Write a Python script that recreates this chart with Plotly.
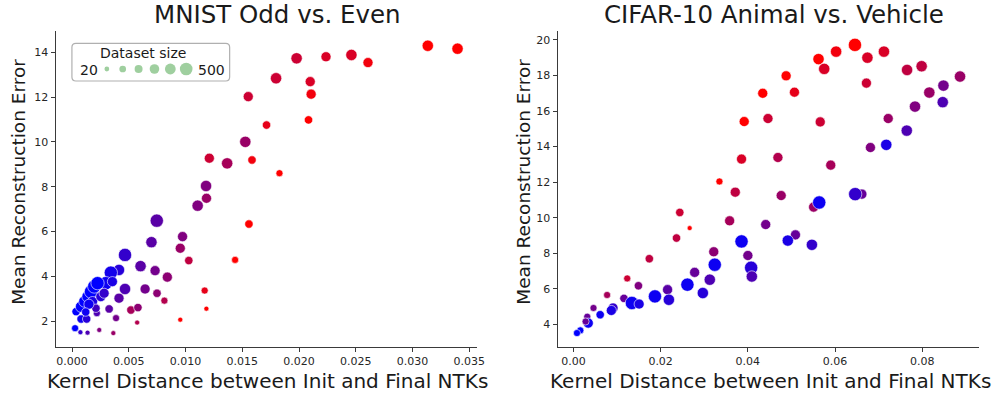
import numpy as np
import plotly.graph_objects as go

W, H = 1003, 397

# ---------------- data ----------------
# MNIST Odd vs. Even
mnist_kernel_dist = [0.01978, 0.01797, 0.01552, 0.01713, 0.01526, 0.01209, 0.01366, 0.01585, 0.01827, 0.0118,
                     0.01184, 0.01106, 0.02237, 0.02461, 0.02607, 0.02098, 0.02106, 0.02083, 0.03134, 0.03396,
                     0.01558, 0.00746, 0.00973, 0.00699, 0.00953, 0.01028, 0.01436, 0.00466, 0.00603, 0.00731,
                     0.00839, 0.00413, 0.00341, 0.00297, 0.00466, 0.00643, 0.00748, 0.00813, 0.01168, 0.01183,
                     0.00953, 0.00413, 0.00326, 0.00518, 0.0058, 0.00573, 0.00387, 0.00218, 0.00239, 0.00363,
                     0.00136, 0.00073, 0.00026, 0.00079, 0.00128, 0.00035, 0.00079, 0.00108, 0.00136, 0.00166,
                     0.00195, 0.00224, 0.0018, 0.0021, 0.00253, 0.00282, 0.00355, 0.00148, 0.0012]
mnist_recon_err = [13.73, 12.84, 12.02, 10.75, 10.0, 9.27, 9.04, 9.19, 8.6, 8.03,
                   7.48, 7.15, 13.8, 13.88, 13.54, 12.69, 12.13, 10.98, 14.29, 14.16,
                   6.33, 6.48, 5.77, 5.52, 5.25, 4.70, 4.73, 4.95, 4.45, 4.25,
                   3.96, 4.28, 4.16, 3.69, 3.43, 3.43, 3.24, 2.91, 3.36, 2.55,
                   2.06, 3.02, 2.54, 2.49, 2.60, 1.93, 2.13, 2.35, 1.60, 1.46,
                   1.48, 1.50, 1.68, 2.09, 2.09, 2.42, 2.64, 2.87, 3.09, 3.31,
                   3.54, 3.69, 2.87, 2.57, 3.09, 3.24, 3.76, 2.75, 2.40]
mnist_dataset_size = [300, 300, 200, 100, 300, 200, 300, 100, 50, 300,
                      200, 300, 200, 300, 200, 200, 200, 100, 300, 300,
                      100, 500, 200, 300, 200, 100, 50, 500, 300, 200,
                      200, 300, 500, 500, 300, 200, 100, 50, 50, 20,
                      20, 200, 100, 100, 100, 20, 50, 50, 20, 20,
                      20, 20, 50, 100, 100, 100, 300, 300, 300, 500,
                      500, 500, 200, 100, 200, 200, 200, 200, 100]
mnist_hue = [0.8, 0.8, 0.8, 0.9, 0.6, 0.8, 0.65, 0.95, 1.0, 0.5,
             0.6, 0.5, 0.85, 0.85, 0.95, 0.85, 0.95, 1.0, 1.0, 1.0,
             1.0, 0.35, 0.5, 0.35, 0.6, 0.75, 1.0, 0.2, 0.35, 0.45,
             0.55, 0.15, 0.08, 0.05, 0.3, 0.45, 0.55, 0.7, 0.9, 1.0,
             1.0, 0.35, 0.35, 0.65, 0.55, 0.7, 0.45, 0.3, 0.5, 0.6,
             0.3, 0.2, 0.0, 0.05, 0.15, 0.0, 0.0, 0.0, 0.0, 0.0,
             0.0, 0.0, 0.1, 0.25, 0.15, 0.2, 0.1, 0.05, 0.05]

# CIFAR-10 Animal vs. Vehicle
cifar_kernel_dist = [0.03348, 0.03711, 0.03855, 0.03916, 0.04341, 0.04877, 0.05068, 0.0562, 0.0575, 0.06023,
                     0.06455, 0.06741, 0.0712, 0.06718, 0.0765, 0.07984, 0.08864, 0.08484, 0.0816, 0.07832,
                     0.08468, 0.07643, 0.07218, 0.07173, 0.0681, 0.05659, 0.04689, 0.04461, 0.059, 0.04764,
                     0.05507, 0.05636, 0.06614, 0.06461, 0.04409, 0.05091, 0.04916, 0.05468, 0.02439, 0.02666,
                     0.02364, 0.03582, 0.03855, 0.04, 0.04075, 0.04091, 0.01741, 0.01234, 0.01491, 0.00773,
                     0.01159, 0.00461, 0.00318, 0.00909, 0.0087, 0.00614, 0.00341, 0.0028, 0.00159, 0.00082,
                     0.01341, 0.01507, 0.0187, 0.02159, 0.02189, 0.02614, 0.0278, 0.02968, 0.03127, 0.03241,
                     0.03218]
cifar_recon_err = [12.04, 11.44, 13.30, 15.41, 17.0, 17.98, 17.06, 18.92, 18.37, 19.34,
                   19.72, 19.0, 19.34, 17.57, 18.31, 18.52, 17.94, 17.43, 17.04, 16.25,
                   16.50, 14.90, 15.58, 14.10, 13.95, 15.39, 13.39, 15.58, 12.96, 11.25,
                   10.6, 10.86, 11.33, 11.33, 9.62, 9.04, 8.72, 8.48, 10.30, 9.42,
                   8.86, 9.83, 8.67, 7.88, 7.19, 6.70, 7.70, 6.59, 6.18, 5.66,
                   5.47, 4.93, 4.44, 4.93, 4.79, 4.55, 4.08, 4.17, 3.67, 3.52,
                   5.21, 5.15, 5.58, 5.96, 5.39, 6.24, 6.93, 5.77, 6.52, 7.36,
                   8.09]
cifar_dataset_size = [50, 200, 200, 200, 200, 200, 200, 300, 300, 300,
                      500, 300, 300, 200, 300, 300, 300, 300, 300, 300,
                      300, 300, 200, 300, 200, 200, 200, 200, 200, 200,
                      200, 500, 200, 500, 200, 200, 300, 300, 100, 20,
                      100, 200, 500, 200, 500, 300, 100, 50, 100, 50,
                      100, 50, 50, 200, 200, 100, 200, 50, 50, 50,
                      500, 200, 500, 200, 300, 500, 200, 300, 300, 500,
                      200]
cifar_hue = [1.0, 0.75, 0.85, 1.0, 1.0, 1.0, 0.9, 1.0, 0.85, 0.95,
             1.0, 0.85, 0.85, 0.8, 0.75, 0.75, 0.6, 0.45, 0.6, 0.5,
             0.3, 0.3, 0.6, 0.1, 0.5, 0.8, 0.7, 0.8, 0.65, 0.6,
             0.6, 0.05, 0.4, 0.2, 0.45, 0.4, 0.1, 0.2, 0.8, 1.0,
             0.75, 0.65, 0.05, 0.45, 0.15, 0.3, 0.75, 0.8, 0.5, 0.65,
             0.4, 0.45, 0.4, 0.2, 0.1, 0.05, 0.05, 0.4, 0.0, 0.0,
             0.05, 0.1, 0.05, 0.35, 0.15, 0.05, 0.4, 0.15, 0.3, 0.05,
             0.55]

legend_sizes = [20, 50, 100, 200, 300, 500]

titles = ["MNIST Odd vs. Even", "CIFAR-10 Animal vs. Vehicle"]
x_label = "Kernel Distance between Init and Final NTKs"
y_label = "Mean Reconstruction Error"

FONT = "DejaVu Sans"
BLUE_RED = [[0, "rgb(0,0,255)"], [1, "rgb(255,0,0)"]]


def diam(n):
    n = np.asarray(n, dtype=float)
    return 5 + 8.3 * np.sqrt((n - 20) / 480)


def fx(p):
    return p / W


def fy(p):
    return 1 - p / H


# ---------------- layout geometry (pixels) ----------------
L1, R1 = 56, 481
L2, R2 = 562, 987
TOP, BOT = 31, 347

fig = go.Figure()


def add_scatter(x, y, n, hue, xa, ya):
    fig.add_trace(go.Scatter(
        x=x, y=y, mode="markers", xaxis=xa, yaxis=ya, showlegend=False,
        marker=dict(size=diam(n), color=hue, colorscale=BLUE_RED, cmin=0, cmax=1,
                    opacity=1, line=dict(color="white", width=0.6)),
        hoverinfo="x+y"))


add_scatter(mnist_kernel_dist, mnist_recon_err, mnist_dataset_size, mnist_hue, "x", "y")
add_scatter(cifar_kernel_dist, cifar_recon_err, cifar_dataset_size, cifar_hue, "x2", "y2")

# legend dots on a hidden helper axis
fig.add_trace(go.Scatter(
    x=list(range(len(legend_sizes))), y=[0] * len(legend_sizes), mode="markers",
    xaxis="x3", yaxis="y3", showlegend=False, hoverinfo="skip", cliponaxis=False,
    marker=dict(size=diam(legend_sizes) * 0.95, color="rgb(118,186,118)", line=dict(width=0))))

axis_common = dict(showline=True, linecolor="#3a3a3a", linewidth=1, ticks="outside",
                   ticklen=4, tickwidth=1, tickcolor="#3a3a3a", showgrid=False, zeroline=False,
                   tickfont=dict(family=FONT, size=11, color="#262626"), mirror=False)

fig.update_layout(
    width=W, height=H, margin=dict(l=0, r=0, t=0, b=0),
    paper_bgcolor="white", plot_bgcolor="white",
    font=dict(family=FONT, color="#1a1a1a"),
    xaxis=dict(domain=[fx(L1), fx(R1)], range=[-0.00146, 0.03569], dtick=0.005, tick0=0,
               tickformat=".3f", anchor="y", **axis_common),
    yaxis=dict(domain=[fy(BOT), fy(TOP)], range=[0.84, 14.95], dtick=2, tick0=0,
               anchor="x", **axis_common),
    xaxis2=dict(domain=[fx(L2), fx(R2)], range=[-0.00364, 0.09302], dtick=0.02, tick0=0,
                tickformat=".2f", anchor="y2", **axis_common),
    yaxis2=dict(domain=[fy(BOT), fy(TOP)], range=[2.736, 20.5], dtick=2, tick0=0,
                anchor="x2", **axis_common),
    xaxis3=dict(domain=[fx(107.7), fx(187.7)], range=[0, 5], visible=False, fixedrange=True),
    yaxis3=dict(domain=[fy(80), fy(58)], range=[-1, 1], visible=False, fixedrange=True,
                anchor="x3"),
)

# legend frame (rounded rectangle)
bx0, bx1, by0, by1, r = 72.5, 231.5, 43.3, 81.0, 4


def rounded_rect(x0, x1, y0, y1, r):
    pts = (f"M {fx(x0 + r)} {fy(y0)} L {fx(x1 - r)} {fy(y0)} "
           f"Q {fx(x1)} {fy(y0)} {fx(x1)} {fy(y0 + r)} L {fx(x1)} {fy(y1 - r)} "
           f"Q {fx(x1)} {fy(y1)} {fx(x1 - r)} {fy(y1)} L {fx(x0 + r)} {fy(y1)} "
           f"Q {fx(x0)} {fy(y1)} {fx(x0)} {fy(y1 - r)} L {fx(x0)} {fy(y0 + r)} "
           f"Q {fx(x0)} {fy(y0)} {fx(x0 + r)} {fy(y0)} Z")
    return pts


fig.add_shape(type="path", xref="paper", yref="paper", path=rounded_rect(bx0, bx1, by0, by1, r),
              line=dict(color="#b0b0b0", width=1.2), fillcolor="rgba(255,255,255,0.8)", layer="below")

annotations = []


def text(t, x, y, size, angle=0, xanchor="center"):
    annotations.append(dict(text=t, x=fx(x), y=fy(y), xref="paper", yref="paper",
                            xanchor=xanchor, yanchor="middle", showarrow=False, textangle=angle,
                            font=dict(family=FONT, size=size, color="#1a1a1a")))


text(titles[0], (L1 + R1) / 2 + 11, 15, 24.5)
text(titles[1], (L2 + R2) / 2 + 6, 15, 24.5)
text(x_label, 269.5, 381, 20)
text(x_label, 776.5, 381, 20)
text(y_label, 19, 182, 18.5, angle=-90)
text(y_label, 528, 182, 18.5, angle=-90)
text("Dataset size", 144, 53, 14)
text(str(legend_sizes[0]), 90, 69.5, 14)
text(str(legend_sizes[-1]), 213, 69.5, 14)

fig.update_layout(annotations=annotations)

fig.write_html("out.html")
